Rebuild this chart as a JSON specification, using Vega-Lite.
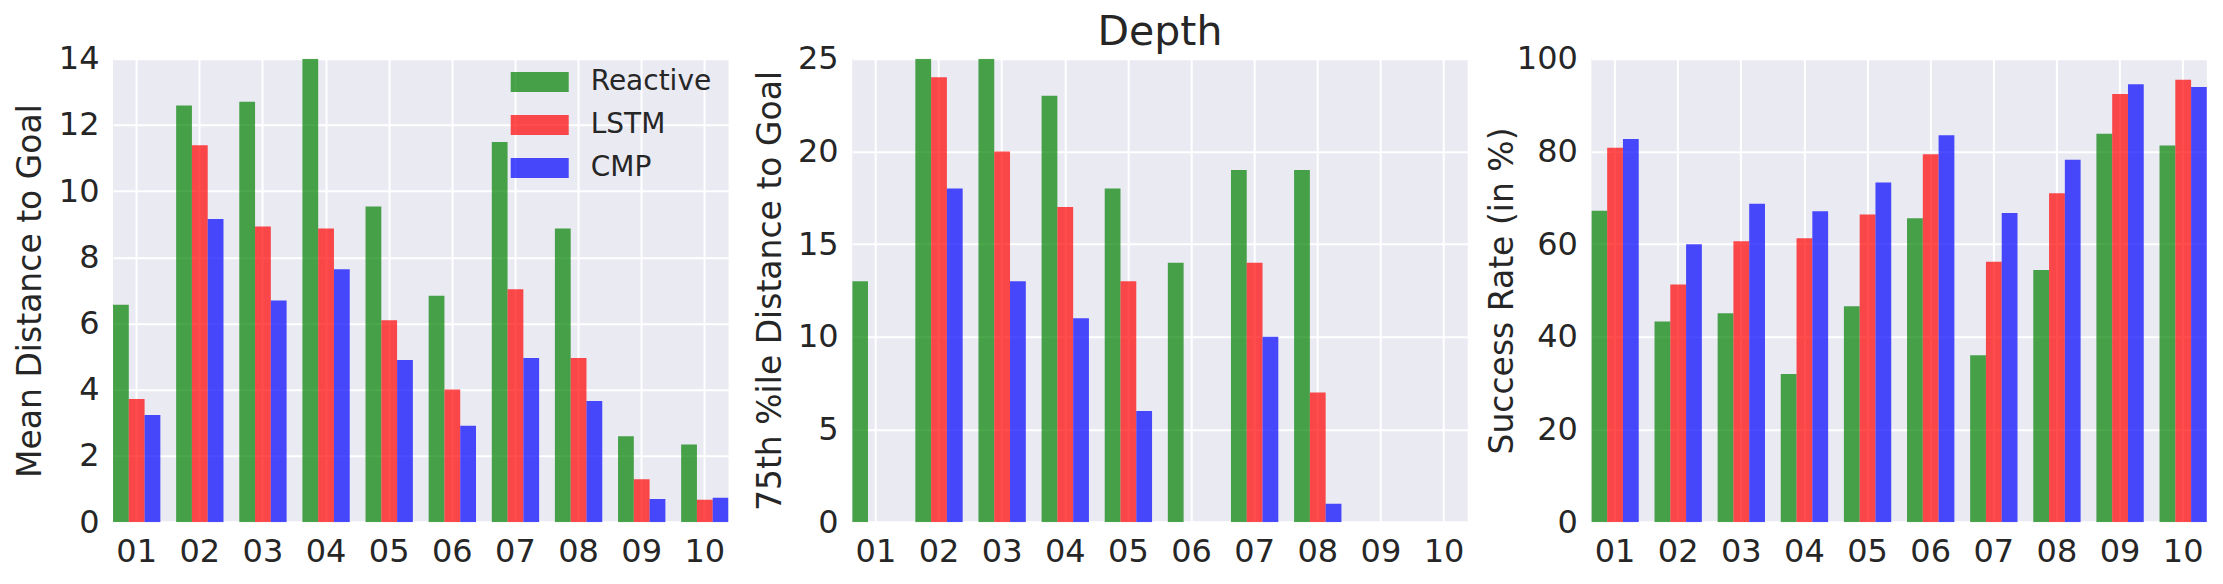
{
  "$schema": "https://vega.github.io/schema/vega-lite/v6.json",
  "background": "white",
  "padding": {"left": 14, "top": 11.8, "right": 0, "bottom": 10},
  "config": {
    "font": "DejaVu Sans",
    "view": {"fill": "#EAEAF2", "stroke": null},
    "axis": {
      "grid": true,
      "gridColor": "#ffffff",
      "gridWidth": 2,
      "gridOpacity": 1,
      "domain": false,
      "ticks": false,
      "labelFont": "DejaVu Sans",
      "labelFontSize": 32,
      "labelColor": "#262626",
      "labelOverlap": false,
      "titleFont": "DejaVu Sans",
      "titleFontSize": 33,
      "titleFontWeight": "normal",
      "titleColor": "#262626"
    },
    "axisX": {"labelAngle": 0, "labelPadding": 14, "title": null},
    "axisY": {"labelPadding": 14, "labelFlush": false}
  },
  "data": {
    "values": [
      {"env": "01", "method": "Reactive", "mean": 6.57, "p75": 13, "success": 67.2},
      {"env": "01", "method": "LSTM", "mean": 3.72, "p75": 0, "success": 80.8},
      {"env": "01", "method": "CMP", "mean": 3.24, "p75": 0, "success": 82.7},
      {"env": "02", "method": "Reactive", "mean": 12.59, "p75": 25, "success": 43.3},
      {"env": "02", "method": "LSTM", "mean": 11.39, "p75": 24, "success": 51.3},
      {"env": "02", "method": "CMP", "mean": 9.16, "p75": 18, "success": 60.0},
      {"env": "03", "method": "Reactive", "mean": 12.7, "p75": 25, "success": 45.1},
      {"env": "03", "method": "LSTM", "mean": 8.93, "p75": 20, "success": 60.6},
      {"env": "03", "method": "CMP", "mean": 6.7, "p75": 13, "success": 68.7},
      {"env": "04", "method": "Reactive", "mean": 14.0, "p75": 23, "success": 32.0},
      {"env": "04", "method": "LSTM", "mean": 8.87, "p75": 17, "success": 61.3},
      {"env": "04", "method": "CMP", "mean": 7.64, "p75": 11, "success": 67.1},
      {"env": "05", "method": "Reactive", "mean": 9.54, "p75": 18, "success": 46.6},
      {"env": "05", "method": "LSTM", "mean": 6.1, "p75": 13, "success": 66.4},
      {"env": "05", "method": "CMP", "mean": 4.9, "p75": 6, "success": 73.3},
      {"env": "06", "method": "Reactive", "mean": 6.84, "p75": 14, "success": 65.6},
      {"env": "06", "method": "LSTM", "mean": 4.01, "p75": 0, "success": 79.4},
      {"env": "06", "method": "CMP", "mean": 2.91, "p75": 0, "success": 83.5},
      {"env": "07", "method": "Reactive", "mean": 11.49, "p75": 19, "success": 36.0},
      {"env": "07", "method": "LSTM", "mean": 7.04, "p75": 14, "success": 56.2},
      {"env": "07", "method": "CMP", "mean": 4.96, "p75": 10, "success": 66.7},
      {"env": "08", "method": "Reactive", "mean": 8.87, "p75": 19, "success": 54.4},
      {"env": "08", "method": "LSTM", "mean": 4.96, "p75": 7, "success": 71.0},
      {"env": "08", "method": "CMP", "mean": 3.66, "p75": 1, "success": 78.2},
      {"env": "09", "method": "Reactive", "mean": 2.6, "p75": 0, "success": 83.8},
      {"env": "09", "method": "LSTM", "mean": 1.3, "p75": 0, "success": 92.4},
      {"env": "09", "method": "CMP", "mean": 0.7, "p75": 0, "success": 94.5},
      {"env": "10", "method": "Reactive", "mean": 2.35, "p75": 0, "success": 81.3},
      {"env": "10", "method": "LSTM", "mean": 0.68, "p75": 0, "success": 95.5},
      {"env": "10", "method": "CMP", "mean": 0.74, "p75": 0, "success": 93.9}
    ]
  },
  "spacing": 123.2,
  "bounds": "flush",
  "resolve": {"legend": {"color": "independent"}, "scale": {"y": "independent"}},
  "hconcat": [
    {
      "width": 615.5,
      "height": 463.4,
      "mark": {"type": "bar", "opacity": 0.7, "clip": true},
      "encoding": {
        "x": {"field": "env", "type": "nominal", "scale": {"paddingInner": 0.25, "paddingOuter": 0}},
        "xOffset": {"field": "method", "type": "nominal", "sort": ["Reactive", "LSTM", "CMP"]},
        "y": {
          "field": "mean", "type": "quantitative",
          "scale": {"domain": [0, 14], "nice": false},
          "axis": {
            "values": [0, 2, 4, 6, 8, 10, 12, 14],
            "title": "Mean Distance to Goal",
            "titleAngle": -90, "titleAlign": "center", "titleBaseline": "alphabetic",
            "titleX": -72.6, "titleY": 231.7
          }
        },
        "color": {
          "field": "method", "type": "nominal",
          "scale": {"domain": ["Reactive", "LSTM", "CMP"], "range": ["#008000", "#ff0000", "#0000ff"]},
          "legend": {
            "title": null,
            "orient": "none",
            "legendX": 412.7,
            "legendY": 9.3,
            "padding": 0,
            "symbolType": "M-2.9,-1H2.9V1H-2.9Z",
            "symbolSize": 400,
            "symbolStrokeWidth": 0,
            "symbolOpacity": 0.7,
            "rowPadding": 15,
            "labelFont": "DejaVu Sans",
            "labelFontSize": 28,
            "labelColor": "#262626",
            "labelOffset": 37
          }
        }
      }
    },
    {
      "width": 615.5,
      "height": 463.4,
      "title": {"text": "Depth", "fontSize": 41, "fontWeight": "normal", "color": "#262626", "font": "DejaVu Sans", "baseline": "alphabetic", "frame": "group", "offset": -43.4, "anchor": "middle"},
      "mark": {"type": "bar", "opacity": 0.7, "clip": true},
      "encoding": {
        "x": {"field": "env", "type": "nominal", "scale": {"paddingInner": 0.25, "paddingOuter": 0}},
        "xOffset": {"field": "method", "type": "nominal", "sort": ["Reactive", "LSTM", "CMP"]},
        "y": {
          "field": "p75", "type": "quantitative",
          "scale": {"domain": [0, 25], "nice": false},
          "axis": {
            "values": [0, 5, 10, 15, 20, 25],
            "title": "75th %ile Distance to Goal",
            "titleAngle": -90, "titleAlign": "center", "titleBaseline": "alphabetic",
            "titleX": -71.5, "titleY": 231.7
          }
        },
        "color": {
          "field": "method", "type": "nominal",
          "scale": {"domain": ["Reactive", "LSTM", "CMP"], "range": ["#008000", "#ff0000", "#0000ff"]},
          "legend": null
        }
      }
    },
    {
      "width": 615.5,
      "height": 463.4,
      "mark": {"type": "bar", "opacity": 0.7, "clip": true},
      "encoding": {
        "x": {"field": "env", "type": "nominal", "scale": {"paddingInner": 0.25, "paddingOuter": 0}},
        "xOffset": {"field": "method", "type": "nominal", "sort": ["Reactive", "LSTM", "CMP"]},
        "y": {
          "field": "success", "type": "quantitative",
          "scale": {"domain": [0, 100], "nice": false},
          "axis": {
            "values": [0, 20, 40, 60, 80, 100],
            "title": "Success Rate (in %)",
            "titleAngle": -90, "titleAlign": "center", "titleBaseline": "alphabetic",
            "titleX": -78.4, "titleY": 231.7
          }
        },
        "color": {
          "field": "method", "type": "nominal",
          "scale": {"domain": ["Reactive", "LSTM", "CMP"], "range": ["#008000", "#ff0000", "#0000ff"]},
          "legend": null
        }
      }
    }
  ]
}
